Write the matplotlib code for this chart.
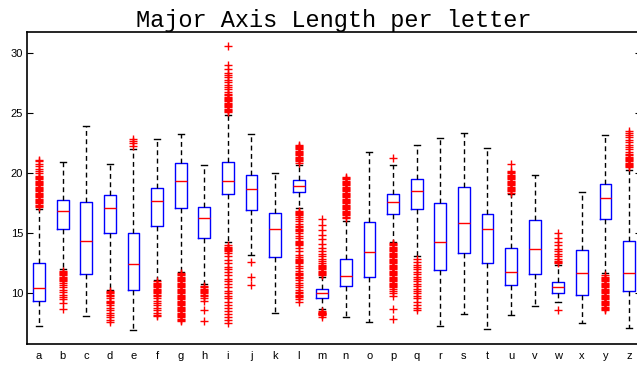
import matplotlib
matplotlib.use("Agg")
import matplotlib.pyplot as plt

# letters and box statistics
letters = list("abcdefghijklmnopqrstuvwxyz")
q1 = [9.36, 15.4, 11.6, 15.0, 10.27, 15.63, 17.1, 14.58, 18.25, 16.97, 13.0, 18.44, 9.6,
      10.6, 11.36, 16.63, 17.0, 11.92, 13.33, 12.5, 10.69, 11.61, 10.03, 9.86, 16.17, 10.19]
med = [10.44, 16.83, 14.33, 17.08, 12.42, 17.72, 19.36, 16.25, 19.36, 18.72, 15.33, 18.97, 10.05,
       11.47, 13.42, 17.63, 18.55, 14.25, 15.88, 15.36, 11.75, 13.67, 10.53, 11.69, 17.97, 11.69]
q3 = [12.5, 17.75, 17.63, 18.2, 15.0, 18.8, 20.86, 17.2, 20.94, 19.9, 16.72, 19.44, 10.36,
      12.83, 15.97, 18.3, 19.55, 17.55, 18.88, 16.63, 13.75, 16.08, 10.94, 13.58, 19.1, 14.33]
whis_lo = [7.3, 12.0, 8.1, 10.3, 6.97, 11.1, 11.8, 10.78, 14.25, 13.2, 8.33, 17.08, 8.67,
           8.05, 7.64, 14.3, 13.1, 7.28, 8.3, 7.05, 8.19, 8.97, 9.25, 7.55, 11.67, 7.14]
whis_hi = [17.0, 20.97, 23.94, 20.8, 22.0, 22.86, 23.27, 20.7, 24.9, 23.27, 20.03, 20.7, 11.4,
           16.0, 21.78, 20.7, 22.36, 22.92, 23.33, 22.08, 18.27, 19.86, 12.4, 18.47, 23.19, 20.3]

# outliers (red +)
outliers = {
    "a": [17.2, 17.3, 17.4, 17.5, 17.6, 17.7, 17.8, 17.9, 18.0, 18.1, 18.2, 18.3, 18.4,
          18.5, 18.6, 18.7, 18.8, 18.9, 19.0, 19.1, 19.2, 19.3, 19.4, 19.5, 19.6, 19.7,
          19.8, 20.0, 20.2, 20.4, 20.6, 20.8, 21.0, 21.1],
    "b": [11.9, 11.8, 11.7, 11.6, 11.5, 11.4, 11.3, 11.2, 11.1, 11.0, 10.9, 10.7, 10.5,
          10.3, 10.1, 9.9, 9.7, 9.5, 9.2, 8.7],
    "d": [10.2, 10.1, 10.0, 9.9, 9.8, 9.6, 9.4, 9.3, 9.2, 9.0, 8.8, 8.6, 8.4, 8.2, 8.0,
          7.8, 7.6],
    "e": [22.3, 22.5, 22.7, 22.9],
    "f": [11.0, 10.9, 10.8, 10.7, 10.6, 10.5, 10.4, 10.3, 10.2, 10.1, 10.0, 9.9, 9.8, 9.6,
          9.4, 9.2, 9.0, 8.8, 8.6, 8.4, 8.2, 8.1],
    "g": [11.7, 11.6, 11.5, 11.4, 11.3, 11.2, 11.1, 11.0, 10.9, 10.8, 10.7, 10.6, 10.5,
          10.4, 10.3, 10.2, 10.1, 10.0, 9.9, 9.8, 9.7, 9.6, 9.5, 9.4, 9.3, 9.2, 9.1, 9.0,
          8.9, 8.8, 8.7, 8.6, 8.5, 8.4, 8.3, 8.2, 8.1, 8.0, 7.9, 7.8, 7.7],
    "h": [10.6, 10.5, 10.4, 10.3, 10.2, 10.1, 10.0, 9.9, 9.8, 9.6, 9.4, 8.6, 7.7],
    "i": [25.1, 25.2, 25.3, 25.4, 25.5, 25.6, 25.7, 25.8, 25.9, 26.0, 26.1, 26.2, 26.3,
          26.4, 26.5, 26.6, 26.8, 27.0, 27.2, 27.4, 27.6, 27.8, 28.0, 28.2, 28.4, 28.7,
          29.0, 30.6,
          14.0, 13.9, 13.8, 13.7, 13.6, 13.5, 13.4, 13.1, 12.8, 12.5, 12.2, 12.0, 11.8,
          11.5, 11.2, 11.0, 10.8, 10.5, 10.2, 10.0, 9.8, 9.6, 9.3, 9.0, 8.8, 8.5, 8.3,
          8.0, 7.8, 7.5],
    "j": [12.6, 11.33, 10.72],
    "l": [20.9, 21.0, 21.1, 21.2, 21.3, 21.4, 21.5, 21.6, 21.7, 21.8, 21.9, 22.0, 22.1,
          22.2, 22.3, 22.4,
          16.9, 16.8, 16.7, 16.6, 16.5, 16.4, 16.2, 16.0, 15.8, 15.6, 15.5, 15.4, 15.3,
          15.2, 15.0, 14.8, 14.6, 14.4, 14.3, 14.2, 14.1, 14.0, 13.8, 13.5, 13.2, 13.0,
          12.9, 12.8, 12.7, 12.6, 12.5, 12.3, 12.1, 11.9, 11.7, 11.6, 11.5, 11.4, 11.3,
          11.1, 10.9, 10.7, 10.5, 10.3, 10.1, 10.0, 9.9, 9.8, 9.7, 9.5, 9.3],
    "m": [11.5, 11.6, 11.7, 11.8, 11.9, 12.0, 12.1, 12.2, 12.3, 12.4, 12.5, 12.7, 12.9,
          13.1, 13.3, 13.5, 13.8, 14.1, 14.5, 14.9, 15.3, 15.7, 16.2,
          8.5, 8.45, 8.4, 8.35, 8.3, 8.25, 8.2, 8.0],
    "n": [16.3, 16.4, 16.5, 16.6, 16.7, 16.8, 16.9, 17.0, 17.1, 17.2, 17.3, 17.4, 17.5,
          17.6, 17.7, 17.8, 17.9, 18.0, 18.1, 18.2, 18.3, 18.4, 18.5, 18.6, 18.7, 18.8,
          18.9, 19.0, 19.1, 19.2, 19.3, 19.4, 19.5, 19.6, 19.7],
    "p": [21.3, 14.2, 14.1, 14.0, 13.9, 13.8, 13.7, 13.6, 13.5, 13.4, 13.3, 13.2, 13.1,
          13.0, 12.9, 12.8, 12.7, 12.6, 12.5, 12.4, 12.3, 12.2, 12.1, 12.0, 11.9, 11.8,
          11.7, 11.6, 11.5, 11.4, 11.3, 11.2, 11.1, 11.0, 10.9, 10.8, 10.7, 10.6, 10.5,
          10.4, 10.2, 10.0, 9.8, 8.7, 7.9],
    "q": [12.9, 12.6, 12.4, 12.2, 12.0, 11.8, 11.6, 11.4, 11.2, 11.0, 10.8, 10.6, 10.4,
          10.2, 10.0, 9.8, 9.6, 9.3, 9.0, 8.8, 8.6],
    "u": [18.4, 18.5, 18.6, 18.7, 18.8, 18.9, 19.0, 19.1, 19.2, 19.3, 19.4, 19.5, 19.6,
          19.7, 19.8, 19.9, 20.0, 20.1, 20.2, 20.8],
    "w": [12.5, 12.6, 12.7, 12.9, 13.1, 13.3, 13.5, 13.7, 14.0, 14.3, 14.6, 15.0, 8.6],
    "y": [11.5, 11.4, 11.3, 11.2, 11.1, 11.0, 10.9, 10.8, 10.7, 10.6, 10.5, 10.4, 10.3,
          10.2, 10.1, 10.0, 9.9, 9.8, 9.7, 9.6, 9.5, 9.4, 9.3, 9.2, 9.1, 9.0, 8.9, 8.8,
          8.7, 8.6],
    "z": [20.5, 20.6, 20.7, 20.8, 20.9, 21.0, 21.1, 21.2, 21.3, 21.4, 21.5, 21.6, 21.8,
          22.0, 22.2, 22.4, 22.6, 22.8, 23.0, 23.2, 23.4, 23.5],
}

stats = []
for i, lt in enumerate(letters):
    stats.append(dict(label=lt, q1=q1[i], med=med[i], q3=q3[i],
                      whislo=whis_lo[i], whishi=whis_hi[i],
                      fliers=outliers.get(lt, [])))

fig = plt.figure(figsize=(6.37, 3.68), dpi=100)
ax = fig.add_axes([27.2 / 637, 24 / 368, 613.6 / 637, 312 / 368])

pos = list(range(1, len(letters) + 1))
ax.bxp(stats, positions=pos, widths=0.5, capwidths=0.25,
       boxprops=dict(color="blue", lw=1.0),
       medianprops=dict(color="red", lw=1.0),
       whiskerprops=dict(color="black", lw=1.0, linestyle=(0, (3.5, 2.5))),
       capprops=dict(color="black", lw=1.0),
       flierprops=dict(marker="+", markeredgecolor="red", markerfacecolor="none",
                       markersize=6, markeredgewidth=1.0, linestyle="none"))

ax.set_xlim(0.5, 26.5)
ax.set_ylim(5.78, 31.78)
ax.set_yticks([10, 15, 20, 25, 30])
ax.tick_params(axis="y", direction="in", length=4, width=0.8, right=True,
               labelsize=8, pad=3)
ax.tick_params(axis="x", length=0, labelsize=8, pad=5)
for lab in ax.get_xticklabels() + ax.get_yticklabels():
    lab.set_fontfamily("Liberation Sans")
for sp in ax.spines.values():
    sp.set_linewidth(1.2)

ax.set_title("Major Axis Length per letter", fontfamily="Liberation Mono",
             fontsize=17, pad=3)

fig.savefig("out.png", dpi=100)
